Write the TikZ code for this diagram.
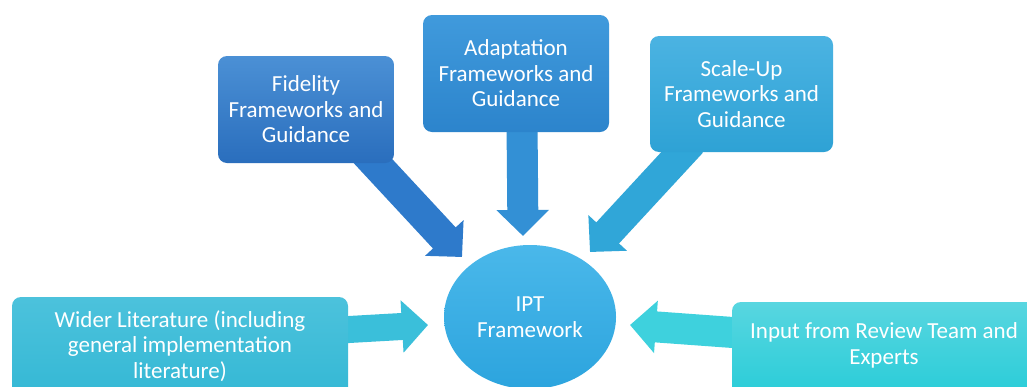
\documentclass[tikz,border=0pt]{standalone}
\usepackage{fontspec}
\setmainfont{Carlito}
\usetikzlibrary{arrows.meta,shapes.geometric,calc}
\pgfdeclarelayer{bg}
\pgfsetlayers{bg,main}
\definecolor{fidTop}{HTML}{4B90D5}
\definecolor{fidBot}{HTML}{2A6EBD}
\definecolor{fidArr}{HTML}{2E7ACB}
\definecolor{adaTop}{HTML}{409ADC}
\definecolor{adaBot}{HTML}{2C84CC}
\definecolor{adaArr}{HTML}{3390D5}
\definecolor{scaTop}{HTML}{4BB3E2}
\definecolor{scaBot}{HTML}{2EA2D5}
\definecolor{scaArr}{HTML}{30A6D8}
\definecolor{iptTop}{HTML}{4AB8EA}
\definecolor{iptBot}{HTML}{2CA4DE}
\definecolor{widTop}{HTML}{4CC2DC}
\definecolor{widBot}{HTML}{2FB6D3}
\definecolor{widArr}{HTML}{3ABFDA}
\definecolor{inpTop}{HTML}{58D6E0}
\definecolor{inpBot}{HTML}{1DCAD6}
\definecolor{inpArr}{HTML}{3ED1DD}
\begin{document}
\begin{tikzpicture}[x=1pt,y=-1pt,
  box/.style={rectangle, rounded corners=9pt, inner sep=0pt, draw=none},
  lbl/.style={text=white, font=\fontsize{23}{25.5}\selectfont, align=center, inner sep=0pt},
  barrow/.style={line width=31pt, -{Triangle[width=51pt 0 0,length=26pt 0 0]}}]
\useasboundingbox (0,0) rectangle (1027,386);
% top boxes
\node[box, lbl, minimum width=176pt, minimum height=107pt, top color=fidTop, bottom color=fidBot] (fid) at (306,109.5) {Fidelity\\Frameworks and\\Guidance};
\node[box, lbl, minimum width=186pt, minimum height=117pt, top color=adaTop, bottom color=adaBot] (ada) at (516,73.5) {Adaptation\\Frameworks and\\Guidance};
\node[box, lbl, minimum width=183pt, minimum height=116pt, top color=scaTop, bottom color=scaBot] (sca) at (741.5,94) {Scale-Up\\Frameworks and\\Guidance};
% bottom boxes
\node[box, minimum width=336pt, minimum height=123pt, top color=widTop, bottom color=widBot] (wid) at (180,358.5) {};
\node[lbl] (widt) at (180,346) {Wider Literature (including\\general implementation\\literature)};
\node[box, minimum width=313pt, minimum height=118pt, top color=inpTop, bottom color=inpBot] (inp) at (888.5,361) {};
\node[lbl] (inpt) at (884,345.5) {Input from Review Team and\\Experts};
% centre ellipse
\node[ellipse, lbl, minimum width=172pt, minimum height=144pt, top color=iptTop, bottom color=iptBot] (ipt) at (530,317) {IPT\\Framework};
% arrow tips
\coordinate (fidtip) at (462,257);
\coordinate (adatip) at (523,236);
\coordinate (scatip) at (590,252);
\coordinate (widtip) at (428,325);
\coordinate (inptip) at (630,325);
\begin{pgfonlayer}{bg}
\fill[white] (0,0) rectangle (1027,386);
\draw[barrow, fidArr] ($(fid.south)+(55,-15)$) -- (fidtip);
\draw[barrow, adaArr] ($(ada.south)+(6,-10)$) -- (adatip);
\draw[barrow, scaArr] ($(sca.south)+(-50,-10)$) -- (scatip);
\draw[barrow, widArr, line width=27pt] ($(wid.east)+(-8,-28.5)$) -- (widtip);
\draw[barrow, inpArr] ($(inp.west)+(8,-28)$) -- (inptip);
\end{pgfonlayer}
\end{tikzpicture}
\end{document}
